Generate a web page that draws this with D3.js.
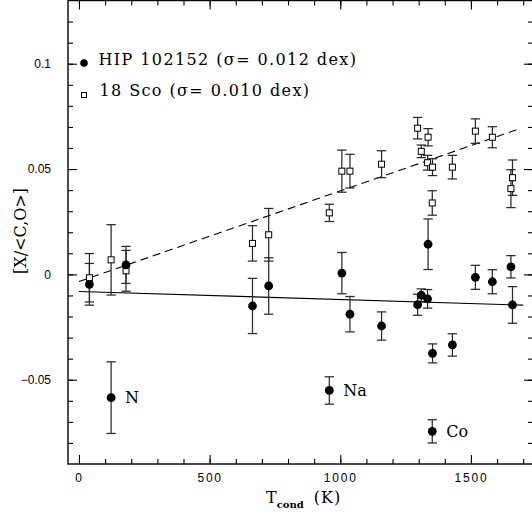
<!DOCTYPE html>
<html><head><meta charset="utf-8">
<script src="https://cdn.jsdelivr.net/npm/d3@7"></script>
<style>
body{margin:0;background:#fff;}
svg{display:block;}
</style></head>
<body>
<svg id="chart" width="532" height="518"></svg>
<script>
// ---- data ----
const elements = ["C","N","O","S","Zn","Na","K","Cu","Mn","Cr","Si","Fe","Mg","Co","Ni","V","Ca","Ti","Al","Sc"];
const tcond    = [40,123,180,664,726,958,1006,1037,1158,1296,1310,1334,1336,1352,1353,1429,1517,1582,1653,1659];
const hipVal   = [-0.0047,-0.0585,0.0045,-0.0150,-0.0055,-0.0551,0.0006,-0.0189,-0.0245,-0.0144,-0.0099,-0.0116,0.0143,-0.0745,-0.0375,-0.0335,-0.0014,-0.0035,0.0036,-0.0145];
const hipErr   = [0.0099,0.0170,0.0088,0.0131,0.0134,0.0065,0.0098,0.0084,0.0067,0.0050,0.0030,0.0044,0.0120,0.0055,0.0045,0.0053,0.0057,0.0057,0.0053,0.0087];
const scoVal   = [-0.0016,0.0069,0.0017,0.0147,0.0188,0.0292,0.0490,0.0490,0.0523,0.0694,0.0584,0.0530,0.0651,0.0339,0.0509,0.0509,0.0680,0.0651,0.0407,0.0459];
const scoErr   = [0.0115,0.0167,0.0097,0.0084,0.0125,0.0041,0.0100,0.0080,0.0064,0.0051,0.0030,0.0035,0.0041,0.0058,0.0040,0.0056,0.0058,0.0050,0.0090,0.0084];
const labelled = ["N","Na","Co"];
const hipFitX  = [0,1700];
const hipFitY  = [-0.0081,-0.0146];
const scoFitX  = [0,1685];
const scoFitY  = [-0.0034,0.0691];
const xMajor   = [0,500,1000,1500];
const yMajor   = [-0.05,0,0.05,0.1];
const yMajorLabels = ["\u22120.05","0","0.05","0.1"];
const legendLabels = ["HIP 102152 (\u03c3= 0.012 dex)","18 Sco (\u03c3= 0.010 dex)"];

// ---- layout ----
const L=68, R=533, T0=0.5, B=464;
const svg=d3.select("#chart");
const x=d3.scaleLinear().domain([-42,1737.5]).range([L,R]);
const y=d3.scaleLinear().domain([-0.09,0.13]).range([B,T0]);
const xMinor=d3.range(0,1800,100).filter(v=>x(v)<R-1);
const yMinor=d3.range(-8,13,1).map(v=>v/100);

function styleAxis(g,labels){
  g.select(".domain").remove();
  g.selectAll(".tick line").attr("stroke","#000").attr("stroke-width",1.1);
  if(!labels) g.selectAll(".tick text").remove();
}
// minor ticks
svg.append("g").attr("transform",`translate(0,${B})`).call(d3.axisBottom(x).tickValues(xMinor).tickSize(-5).tickFormat("")).call(g=>styleAxis(g,false));
svg.append("g").attr("transform",`translate(0,${T0})`).call(d3.axisTop(x).tickValues(xMinor).tickSize(-5).tickFormat("")).call(g=>styleAxis(g,false));
svg.append("g").attr("transform",`translate(${L},0)`).call(d3.axisLeft(y).tickValues(yMinor).tickSize(-5).tickFormat("")).call(g=>styleAxis(g,false));
svg.append("g").attr("transform",`translate(${R},0)`).call(d3.axisRight(y).tickValues(yMinor).tickSize(-5).tickFormat("")).call(g=>styleAxis(g,false));
// major ticks
const xb=svg.append("g").attr("transform",`translate(0,${B})`).call(d3.axisBottom(x).tickValues(xMajor).tickSize(-9).tickPadding(9).tickFormat(d3.format("d")));
styleAxis(xb,true);
xb.selectAll(".tick text").attr("font-family","Liberation Sans, Arial, sans-serif").attr("font-size",12).attr("letter-spacing","1.8px").attr("fill","#000");
svg.append("g").attr("transform",`translate(0,${T0})`).call(d3.axisTop(x).tickValues(xMajor).tickSize(-9).tickFormat("")).call(g=>styleAxis(g,false));
const yl=svg.append("g").attr("transform",`translate(${L},0)`).call(d3.axisLeft(y).tickValues(yMajor).tickSize(-9).tickPadding(17).tickFormat((d,i)=>yMajorLabels[i]));
styleAxis(yl,true);
yl.selectAll(".tick text").attr("font-family","Liberation Sans, Arial, sans-serif").attr("font-size",12).attr("fill","#000");
svg.append("g").attr("transform",`translate(${R},0)`).call(d3.axisRight(y).tickValues(yMajor).tickSize(-9).tickFormat("")).call(g=>styleAxis(g,false));

// frame
svg.append("rect").attr("x",L).attr("y",T0).attr("width",R-L).attr("height",B-T0)
  .attr("fill","none").attr("stroke","#000").attr("stroke-width",1.4);

// fit lines
const line=d3.line().x(d=>x(d[0])).y(d=>y(d[1]));
svg.append("path").datum(hipFitX.map((v,i)=>[v,hipFitY[i]])).attr("d",line)
  .attr("fill","none").attr("stroke","#000").attr("stroke-width",1.1);
svg.append("path").datum(scoFitX.map((v,i)=>[v,scoFitY[i]])).attr("d",line)
  .attr("fill","none").attr("stroke","#000").attr("stroke-width",1.1).attr("stroke-dasharray","8,5");

// error bars
const idx=d3.range(tcond.length);
function errBars(vals,errs){
  const g=svg.append("g").attr("stroke","#2a2a2a").attr("stroke-width",1.25);
  idx.forEach(i=>{
    const cx=x(tcond[i]), y1=y(vals[i]+errs[i]), y2=y(vals[i]-errs[i]);
    g.append("line").attr("x1",cx).attr("x2",cx).attr("y1",y1).attr("y2",y2);
    g.append("line").attr("x1",cx-4.7).attr("x2",cx+4.7).attr("y1",y1).attr("y2",y1);
    g.append("line").attr("x1",cx-4.7).attr("x2",cx+4.7).attr("y1",y2).attr("y2",y2);
  });
}
errBars(scoVal,scoErr);
errBars(hipVal,hipErr);

// squares (18 Sco)
svg.append("g").selectAll("rect").data(idx).join("rect")
  .attr("x",i=>x(tcond[i])-3).attr("y",i=>y(scoVal[i])-3).attr("width",6).attr("height",6)
  .attr("fill","#fff").attr("stroke","#000").attr("stroke-width",1);
// circles (HIP 102152)
svg.append("g").selectAll("circle").data(idx).join("circle")
  .attr("cx",i=>x(tcond[i])).attr("cy",i=>y(hipVal[i])).attr("r",4.4).attr("fill","#000");

// element labels
const serif="DejaVu Serif, serif";
svg.append("g").selectAll("text").data(idx.filter(i=>labelled.includes(elements[i]))).join("text")
  .attr("x",i=>x(tcond[i])+14).attr("y",i=>y(hipVal[i])+5.5)
  .attr("font-family",serif).attr("font-size",16).attr("fill","#000")
  .text(i=>elements[i]);

// legend
svg.append("circle").attr("cx",84).attr("cy",63).attr("r",3.8).attr("fill","#000");
svg.append("rect").attr("x",81.5).attr("y",92.5).attr("width",5).attr("height",5).attr("fill","#fff").attr("stroke","#000").attr("stroke-width",1);
svg.append("text").attr("x",98.5).attr("y",64.5).attr("font-family",serif).attr("font-size",16).attr("letter-spacing","1.4px").text(legendLabels[0]);
svg.append("text").attr("x",99.5).attr("y",96).attr("font-family",serif).attr("font-size",16).attr("letter-spacing","1.4px").text(legendLabels[1]);

// axis titles
const xt=svg.append("text").attr("x",266).attr("y",503).attr("font-family",serif).attr("font-size",16).attr("fill","#000");
xt.append("tspan").text("T");
xt.append("tspan").attr("font-size",10).attr("font-weight","bold").attr("dy",5).text("cond");
xt.append("tspan").attr("dy",-5).attr("dx",10).attr("letter-spacing","1px").text("(K)");
svg.append("text").attr("transform","translate(26,231) rotate(-90)").attr("text-anchor","middle")
  .attr("font-family",serif).attr("font-size",16).attr("fill","#000").text("[X/<C,O>]");
</script>
</body></html>
